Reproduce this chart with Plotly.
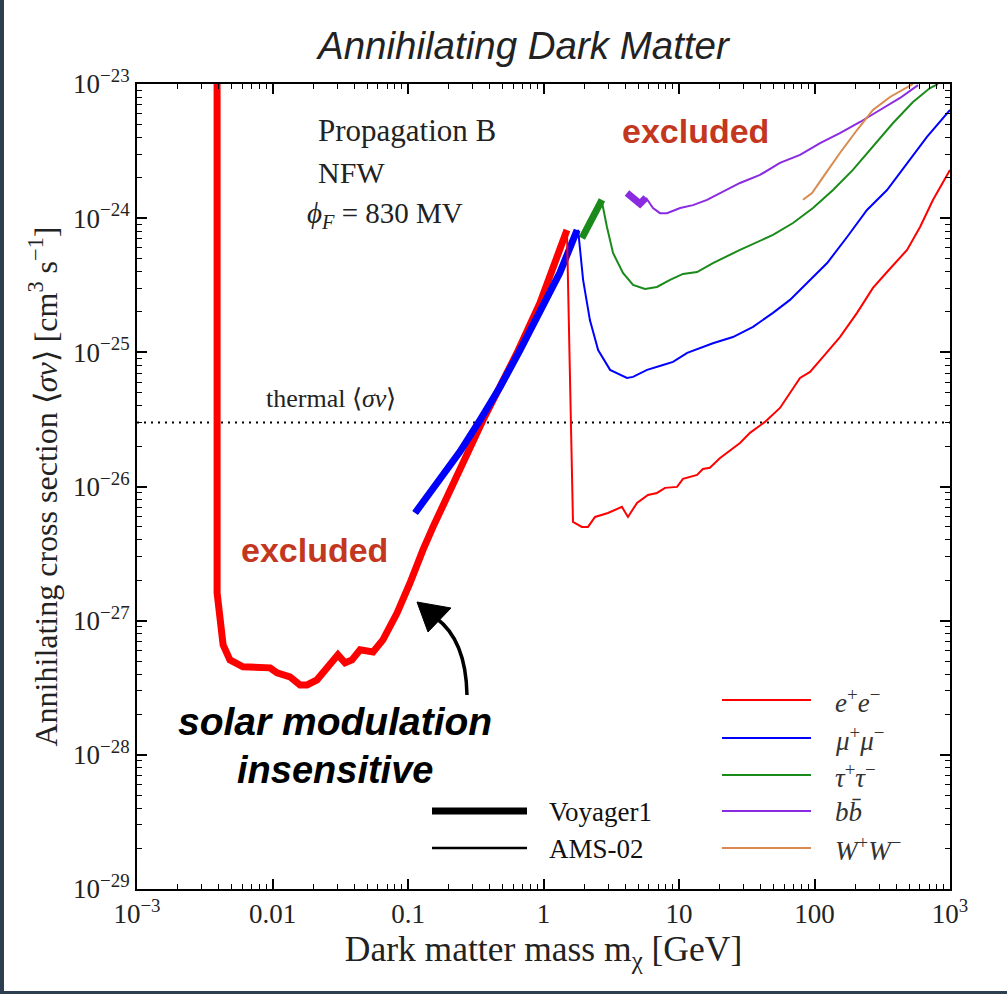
import plotly.graph_objects as go

# ---------------- data ----------------
# Voyager1 (thick lines)
ee_voy_x = [0.0039, 0.0039, 0.00432, 0.00485, 0.00605, 0.0096, 0.0108, 0.01346, 0.01596, 0.018,
            0.0213, 0.0304, 0.0343, 0.0386, 0.0443, 0.0552, 0.0653, 0.083, 0.1035, 0.1166,
            0.129, 0.153, 0.358, 0.637, 0.942, 1.49]
ee_voy_y = [1e-23, 1.61e-27, 6.6e-28, 5.1e-28, 4.53e-28, 4.45e-28, 4.08e-28, 3.81e-28, 3.32e-28, 3.32e-28,
            3.62e-28, 5.56e-28, 4.85e-28, 5.1e-28, 6.06e-28, 5.85e-28, 7.19e-28, 1.14e-27, 1.91e-27, 2.7e-27,
            3.37e-27, 5.0e-27, 3.13e-26, 9.9e-26, 2.33e-25, 8.17e-25]

mu_voy_x = [0.1128, 0.172, 0.242, 0.340, 0.478, 0.671, 0.942, 1.32, 1.77]
mu_voy_y = [6.35e-27, 1.12e-26, 1.82e-26, 3.13e-26, 5.52e-26, 1.04e-25, 1.97e-25, 3.91e-25, 8.17e-25]

tau_voy_x = [1.92, 2.70]
tau_voy_y = [7.1e-25, 1.37e-24]

bb_voy_x = [4.13, 5.15, 5.70]
bb_voy_y = [1.54e-24, 1.28e-24, 1.42e-24]

# AMS-02 (thin lines)
ee_ams_x = [1.49, 1.65, 1.92, 2.13, 2.40, 2.99, 3.79, 4.2, 4.90, 5.90, 6.88, 7.89, 9.67, 10.7, 13.6,
            15.0, 16.9, 20.1, 28.2, 33.4, 43.1, 55.6, 78.2, 92.7, 115.6, 154, 206, 270, 343, 428,
            482, 601, 750, 1000]
ee_ams_y = [7.9e-25, 5.45e-27, 5.0e-27, 5.0e-27, 5.93e-27, 6.35e-27, 7.05e-27, 5.93e-27, 7.55e-27,
            8.65e-27, 8.95e-27, 9.77e-27, 9.93e-27, 1.14e-26, 1.22e-26, 1.35e-26, 1.38e-26, 1.63e-26,
            2.11e-26, 2.51e-26, 3.03e-26, 3.85e-26, 6.45e-26, 7.14e-26, 9.24e-26, 1.30e-25, 1.97e-25,
            3.02e-25, 3.97e-25, 5.14e-25, 5.8e-25, 8.59e-25, 1.37e-24, 2.29e-24]

mu_ams_x = [1.80, 1.96, 2.20, 2.53, 3.10, 4.13, 4.58, 5.81, 7.62, 9.03, 11.5, 17.8, 25.0, 35.2, 49.4,
            65.9, 88.1, 124, 174, 244, 343, 482, 676, 1000]
mu_ams_y = [8.2e-25, 3.47e-25, 1.74e-25, 1.04e-25, 7.4e-26, 6.45e-26, 6.56e-26, 7.4e-26, 8.05e-26,
            8.48e-26, 9.9e-26, 1.17e-25, 1.30e-25, 1.55e-25, 1.97e-25, 2.46e-25, 3.29e-25, 4.63e-25,
            7.24e-25, 1.15e-24, 1.62e-24, 2.58e-24, 4.03e-24, 6.4e-24]

tau_ams_x = [2.70, 2.94, 3.26, 3.86, 4.58, 5.61, 6.88, 8.59, 10.7, 13.6, 17.8, 28.2, 49.4, 69.4, 97.5,
             137, 192, 270, 380, 533, 712, 815]
tau_ams_y = [1.32e-24, 8.59e-25, 5.5e-25, 3.91e-25, 3.18e-25, 2.97e-25, 3.07e-25, 3.47e-25, 3.84e-25,
             3.97e-25, 4.63e-25, 5.8e-25, 7.5e-25, 9.2e-25, 1.19e-24, 1.62e-24, 2.29e-24, 3.4e-24,
             5.12e-24, 7.35e-24, 9.33e-24, 1e-23]

bb_ams_x = [5.70, 6.43, 7.24, 8.15, 10.2, 12.7, 16.1, 22.6, 28.2, 39.6, 55.6, 78.2, 110, 154, 217,
            304, 428, 581]
bb_ams_y = [1.42e-24, 1.19e-24, 1.09e-24, 1.09e-24, 1.19e-24, 1.25e-24, 1.37e-24, 1.62e-24, 1.83e-24,
            2.1e-24, 2.58e-24, 2.96e-24, 3.63e-24, 4.31e-24, 5.21e-24, 6.4e-24, 7.87e-24, 9.8e-24]

ww_ams_x = [82.2, 95.9, 116, 154, 206, 270, 361, 482, 533]
ww_ams_y = [1.37e-24, 1.54e-24, 2.03e-24, 3.06e-24, 4.54e-24, 6.4e-24, 8.0e-24, 9.5e-24, 1e-23]

thermal_x = [1e-3, 1e3]
thermal_y = [3e-26, 3e-26]

x_tickvals = [1e-3, 1e-2, 1e-1, 1, 10, 100, 1000]
x_ticktext = ["10<sup>−3</sup>", "0.01", "0.1", "1", "10", "100", "10<sup>3</sup>"]
y_tickvals = [1e-29, 1e-28, 1e-27, 1e-26, 1e-25, 1e-24, 1e-23]
y_ticktext = ["10<sup>−29</sup>", "10<sup>−28</sup>", "10<sup>−27</sup>", "10<sup>−26</sup>",
              "10<sup>−25</sup>", "10<sup>−24</sup>", "10<sup>−23</sup>"]

channel_labels = ["<i>e</i><sup>+</sup><i>e</i><sup>−</sup>",
                  "<i>μ</i><sup>+</sup><i>μ</i><sup>−</sup>",
                  "<i>τ</i><sup>+</sup><i>τ</i><sup>−</sup>",
                  "<i>b</i><i>b̄</i>",
                  "<i>W</i><sup>+</sup><i>W</i><sup>−</sup>"]
channel_colors = ["#ff0000", "#0000ff", "#1a8a1a", "#8a2be2", "#d98a4e"]
exp_labels = ["Voyager1", "AMS-02"]

# ---------------- figure ----------------
W, H = 1007, 994
L, R, T, B = 137, 57, 84, 105
PW, PH = W - L - R, H - T - B

def px(x):
    return (x - L) / PW

def py(y):
    return (H - B - y) / PH

SERIF = "Liberation Serif"
SANS = "Liberation Sans"
EXC = "#c4371f"

fig = go.Figure()

fig.add_trace(go.Scatter(x=thermal_x, y=thermal_y, mode="lines",
                         line=dict(color="black", width=2, dash="2px,5px"), showlegend=False))

thick = 7
fig.add_trace(go.Scatter(x=ee_voy_x, y=ee_voy_y, mode="lines",
                         line=dict(color=channel_colors[0], width=thick), showlegend=False))
fig.add_trace(go.Scatter(x=mu_voy_x, y=mu_voy_y, mode="lines",
                         line=dict(color=channel_colors[1], width=thick), showlegend=False))
fig.add_trace(go.Scatter(x=tau_voy_x, y=tau_voy_y, mode="lines",
                         line=dict(color=channel_colors[2], width=thick), showlegend=False))
fig.add_trace(go.Scatter(x=bb_voy_x, y=bb_voy_y, mode="lines",
                         line=dict(color=channel_colors[3], width=thick), showlegend=False))

thin = 2
for xs, ys, c in [(ee_ams_x, ee_ams_y, channel_colors[0]),
                  (mu_ams_x, mu_ams_y, channel_colors[1]),
                  (tau_ams_x, tau_ams_y, channel_colors[2]),
                  (bb_ams_x, bb_ams_y, channel_colors[3]),
                  (ww_ams_x, ww_ams_y, channel_colors[4])]:
    fig.add_trace(go.Scatter(x=xs, y=ys, mode="lines",
                             line=dict(color=c, width=thin), showlegend=False))

minor_x = [m * 10 ** e for e in range(-3, 3) for m in range(2, 10)]
minor_y = [m * 10.0 ** e for e in range(-29, -23) for m in range(2, 10)]

fig.update_xaxes(type="log", range=[-3, 3], showline=True, linecolor="black", linewidth=2,
                 mirror="ticks", ticks="inside", ticklen=10, tickwidth=1.5, tickcolor="black",
                 tickvals=x_tickvals, ticktext=x_ticktext, showgrid=False, zeroline=False,
                 tickfont=dict(family=SERIF, size=27, color="#222"),
                 minor=dict(tickmode="array", tickvals=minor_x, ticks="inside", ticklen=5,
                            tickwidth=1.2, tickcolor="black", showgrid=False),
                 title=dict(text="Dark matter mass m<sub>χ</sub> [GeV]",
                            font=dict(family=SERIF, size=35.5, color="#222"), standoff=6))
fig.update_yaxes(type="log", range=[-29, -23], showline=True, linecolor="black", linewidth=2,
                 mirror="ticks", ticks="inside", ticklen=10, tickwidth=1.5, tickcolor="black",
                 tickvals=y_tickvals, ticktext=y_ticktext, showgrid=False, zeroline=False,
                 tickfont=dict(family=SERIF, size=27, color="#222"),
                 minor=dict(tickmode="array", tickvals=minor_y, ticks="inside", ticklen=5,
                            tickwidth=1.2, tickcolor="black", showgrid=False),
                 title=dict(text="Annihilating cross section ⟨<i>σv</i>⟩ [cm<sup>3</sup> s<sup>−1</sup>]",
                            font=dict(family=SERIF, size=32, color="#222"), standoff=6))

ann = []
def add_text(x, y, text, size, family=SERIF, color="#222", xanchor="left", yanchor="middle"):
    ann.append(dict(x=px(x), y=py(y), xref="paper", yref="paper", text=text, showarrow=False,
                    xanchor=xanchor, yanchor=yanchor,
                    font=dict(family=family, size=size, color=color)))

# title
add_text(523, 46, "<i>Annihilating Dark Matter</i>", 38.5, family=SANS, color="#222", xanchor="center")
# info text
add_text(316, 130, "Propagation B", 31)
add_text(316, 173, "NFW", 30)
add_text(305, 215, "<i>ϕ</i><sub><i>F</i></sub> = 830 MV", 29)
add_text(264, 398, "thermal ⟨<i>σv</i>⟩", 26)
# excluded labels
add_text(695, 131, "<b>excluded</b>", 34, family=SANS, color=EXC, xanchor="center")
add_text(314, 550, "<b>excluded</b>", 34, family=SANS, color=EXC, xanchor="center")
add_text(335, 721, "<b><i>solar modulation</i></b>", 39, family=SANS, color="black", xanchor="center")
add_text(335, 770, "<b><i>insensitive</i></b>", 38, family=SANS, color="black", xanchor="center")

# legends
shapes = []
leg_y = [700, 738, 775, 811, 848]
for yy, lab, col in zip(leg_y, channel_labels, channel_colors):
    shapes.append(dict(type="line", xref="paper", yref="paper", x0=px(722), x1=px(811),
                       y0=py(yy), y1=py(yy), line=dict(color=col, width=2)))
    add_text(833, yy + 1, lab, 27, color="#333")

for yy, lab, w in zip([811, 848], exp_labels, [7, 2.5]):
    shapes.append(dict(type="line", xref="paper", yref="paper", x0=px(432), x1=px(527),
                       y0=py(yy), y1=py(yy), line=dict(color="black", width=w)))
    add_text(547, yy + 1, lab, 27, color="#111")

# hand-drawn style arrow
shapes.append(dict(type="path", xref="paper", yref="paper",
                   path=f"M {px(467)},{py(695)} Q {px(466)},{py(640)} {px(436)},{py(618)}",
                   line=dict(color="black", width=3.5)))
shapes.append(dict(type="path", xref="paper", yref="paper",
                   path=f"M {px(417)},{py(602)} L {px(451)},{py(608)} L {px(428)},{py(632)} Z",
                   line=dict(color="black", width=1), fillcolor="black"))

# dark screenshot border (left / bottom edges)
shapes.append(dict(type="rect", xref="paper", yref="paper", x0=px(0), x1=px(4), y0=py(994), y1=py(0),
                   line=dict(width=0), fillcolor="#2c3e50", layer="above"))
shapes.append(dict(type="rect", xref="paper", yref="paper", x0=px(0), x1=px(1007), y0=py(994), y1=py(991),
                   line=dict(width=0), fillcolor="#2c3e50", layer="above"))

fig.update_layout(width=W, height=H, margin=dict(l=L, r=R, t=T, b=B),
                  paper_bgcolor="white", plot_bgcolor="white",
                  annotations=ann, shapes=shapes, showlegend=False)

fig.write_html("out.html")
